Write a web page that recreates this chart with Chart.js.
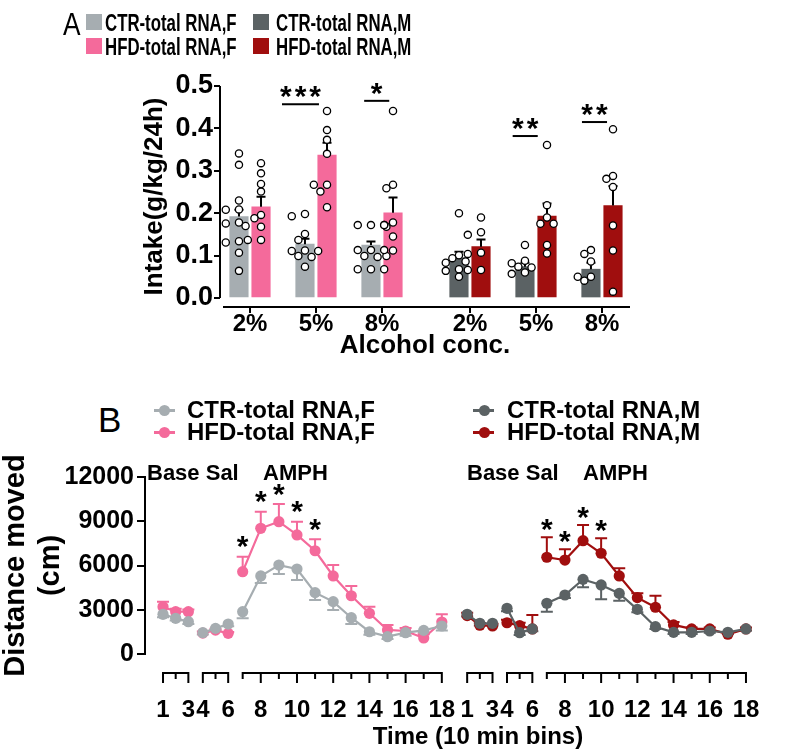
<!DOCTYPE html>
<html>
<head>
<meta charset="utf-8">
<script src="https://cdn.jsdelivr.net/npm/chart.js@4.4.1/dist/chart.umd.min.js"></script>
<style>
  body { margin: 0; background: #fff; }
  #wrap { position: relative; width: 793px; height: 754px; overflow: hidden; font-family: "Liberation Sans", Arial, sans-serif; }
  canvas { position: absolute; left: 0; }
  #chartA { top: 0; }
  #chartB { top: 440px; }
  .t { position: absolute; white-space: nowrap; line-height: 1; color: #000; }
  .lg { font-size: 24px; font-weight: bold; }
  .lgA { font-size: 24px; font-weight: bold; transform: scaleX(0.7); transform-origin: left top; }
  .sq { position: absolute; width: 16px; height: 16px; }
  .ln { position: absolute; width: 21px; height: 2.5px; }
  .dot { position: absolute; width: 11px; height: 11px; border-radius: 50%; }
</style>
</head>
<body>
<div id="wrap">
  <canvas id="chartA" width="793" height="375"></canvas>
  <canvas id="chartB" width="793" height="314"></canvas>

  <div class="t" style="left:63px;top:8px;font-size:32px;transform:scaleX(0.82);transform-origin:left top;">A</div>
  <div class="sq" style="left:86px;top:14px;background:#A6ADB1;"></div>
  <div class="t lgA" style="left:105px;top:10.8px;">CTR-total RNA,F</div>
  <div class="sq" style="left:86px;top:38px;background:#F46A9B;"></div>
  <div class="t lgA" style="left:105px;top:34.8px;">HFD-total RNA,F</div>
  <div class="sq" style="left:253px;top:14px;background:#5B6264;"></div>
  <div class="t lgA" style="left:276px;top:10.8px;">CTR-total RNA,M</div>
  <div class="sq" style="left:253px;top:38px;background:#A00E0E;"></div>
  <div class="t lgA" style="left:276px;top:34.8px;">HFD-total RNA,M</div>

  <div class="t" style="left:98px;top:402.4px;font-size:35px;">B</div>
  <div class="ln" style="left:154px;top:409px;background:#A6ADB1;"></div>
  <div class="dot" style="left:159px;top:404.5px;background:#A6ADB1;"></div>
  <div class="t lg" style="left:187px;top:398.3px;">CTR-total RNA,F</div>
  <div class="ln" style="left:154px;top:431px;background:#F46A9B;"></div>
  <div class="dot" style="left:159px;top:426.5px;background:#F46A9B;"></div>
  <div class="t lg" style="left:187px;top:420.3px;">HFD-total RNA,F</div>
  <div class="ln" style="left:473px;top:409px;background:#5B6264;"></div>
  <div class="dot" style="left:478.5px;top:404.5px;background:#5B6264;"></div>
  <div class="t lg" style="left:507px;top:398.3px;">CTR-total RNA,M</div>
  <div class="ln" style="left:473px;top:431px;background:#A00E0E;"></div>
  <div class="dot" style="left:478.5px;top:426.5px;background:#A00E0E;"></div>
  <div class="t lg" style="left:507px;top:420.3px;">HFD-total RNA,M</div>

  <div class="t" style="left:147px;top:462.3px;font-size:22px;font-weight:bold;">Base Sal</div>
  <div class="t" style="left:263px;top:462.3px;font-size:22px;font-weight:bold;">AMPH</div>
  <div class="t" style="left:467px;top:462.3px;font-size:22px;font-weight:bold;">Base Sal</div>
  <div class="t" style="left:583px;top:462.3px;font-size:22px;font-weight:bold;">AMPH</div>
  <div class="t lg" style="left:478px;top:724.3px;transform:translateX(-50%);">Time (10 min bins)</div>
</div>

<script>
// ---------- panel A: alcohol intake ----------
const concLabels = ["2%", "5%", "8%", "2%", "5%", "8%"];
const intakeTicks = [0, 0.1, 0.2, 0.3, 0.4, 0.5];

const ctrFMean = [0.192, 0.127, 0.125];
const ctrFSem = [0.016, 0.013, 0.008];
const hfdFMean = [0.215, 0.337, 0.201];
const hfdFSem = [0.024, 0.029, 0.036];
const ctrMMean = [0.095, 0.074, 0.068];
const ctrMSem = [0.014, 0.009, 0.015];
const hfdMMean = [0.121, 0.193, 0.218];
const hfdMSem = [0.017, 0.030, 0.046];

const ctrFPts = [
  [0.341, 0.314, 0.230, 0.208, 0.209, 0.178, 0.170, 0.176, 0.131, 0.134, 0.107, 0.064],
  [0.198, 0.193, 0.151, 0.137, 0.111, 0.111, 0.112, 0.099, 0.097, 0.074],
  [0.172, 0.172, 0.172, 0.172, 0.113, 0.113, 0.113, 0.099, 0.097, 0.068, 0.068, 0.068],
];
const hfdFPts = [
  [0.318, 0.294, 0.269, 0.251, 0.196, 0.188, 0.168, 0.137, 0.137],
  [0.441, 0.396, 0.373, 0.340, 0.267, 0.267, 0.251, 0.214],
  [0.441, 0.267, 0.259, 0.178, 0.168, 0.145, 0.112, 0.099],
];
const ctrMPts = [
  [0.200, 0.101, 0.094, 0.086, 0.083, 0.068, 0.064, 0.050],
  [0.125, 0.088, 0.082, 0.072, 0.074, 0.057, 0.060],
  [0.113, 0.104, 0.086, 0.050, 0.050, 0.041],
];
const hfdMPts = [
  [0.190, 0.155, 0.149, 0.107, 0.104, 0.066, 0.066],
  [0.361, 0.219, 0.190, 0.175, 0.175, 0.125, 0.105],
  [0.398, 0.288, 0.281, 0.262, 0.171, 0.112, 0.015],
];

// significance bars (x in group units, y in intake units)
const sigA = [
  { from: 0.485, to: 1.045, y: 0.457, stars: 3 },
  { from: 1.73, to: 2.11, y: 0.465, stars: 1 },
  { from: 3.98, to: 4.36, y: 0.382, stars: 2 },
  { from: 5.03, to: 5.41, y: 0.415, stars: 2 },
];

// ---------- panel B: locomotion ----------
const bins = [1, 2, 3, 4, 5, 6, 7, 8, 9, 10, 11, 12, 13, 14, 15, 16, 17, 18];
const binLabels = [1, 3, 4, 6, 8, 10, 12, 14, 16, 18];
const binSegments = [[1, 3], [4, 6], [7, 18]];
const distTicks = [0, 3000, 6000, 9000, 12000];

const ctrFDist = [2690, 2420, 2190, 1445, 1740, 2030, 2870, 5290, 6030, 5760, 4160, 3550, 2460, 1510, 1175, 1445, 1600, 1900];
const ctrFDistSem = [200, 150, 150, 120, 120, 150, 450, 480, 610, 740, 500, 570, 430, 200, 150, 200, 150, 300];
const hfdFDist = [3200, 2870, 2870, 1420, 1620, 1400, 5580, 8520, 8970, 8070, 7000, 5290, 3950, 2760, 1630, 1560, 1085, 2170];
const hfdFDistSem = [350, 200, 150, 100, 100, 100, 1020, 1130, 1200, 900, 780, 740, 660, 440, 340, 200, 250, 530];
const ctrMDist = [2690, 2080, 2080, 3100, 1445, 1700, 3440, 4000, 5060, 4680, 4110, 3030, 1850, 1470, 1470, 1560, 1470, 1700];
const ctrMDistSem = [150, 150, 150, 200, 150, 150, 570, 200, 540, 970, 500, 200, 150, 120, 120, 120, 120, 120];
const hfdMDist = [2600, 1950, 1900, 2120, 1920, 1700, 6560, 6370, 7680, 6830, 5290, 3820, 3170, 1970, 1700, 1700, 1340, 1700];
const hfdMDistSem = [200, 150, 150, 200, 200, 940, 1350, 730, 1070, 1010, 520, 300, 780, 200, 100, 100, 100, 100];

const starBinsF = [7, 8, 9, 10, 11];
const starBinsM = [7, 8, 9, 10];

const COLORS = { ctrF: "#A6ADB1", hfdF: "#F46A9B", ctrM: "#5B6264", hfdM: "#A00E0E" };
const FONT = "'Liberation Sans', Arial, sans-serif";

// ---------- helpers ----------
const groupX = concLabels.map((_, i) => (i < 3 ? i : i + 1 / 3));
const BAR_SHIFT = 0.167;

function barData(means, groups, shift) {
  return means.map((m, i) => ({ x: groupX[groups[i]] + shift, y: m }));
}

// simple beeswarm so the dots do not sit on top of each other
function swarm(groupsPts, groups, shift) {
  const PX_X = 66, PX_Y = 424, STEP = 0.1;
  const out = [];
  groupsPts.forEach((vals, gi) => {
    const cx = groupX[groups[gi]] + shift;
    const placed = [];
    [...vals].sort((a, b) => b - a).forEach((v) => {
      for (const k of [0, -1, 1, -2, 2]) {
        const dx = k * STEP;
        const free = placed.every((p) => Math.hypot((p.dx - dx) * PX_X, (p.v - v) * PX_Y) >= 7.2);
        if (free || k === 2) {
          placed.push({ dx, v });
          out.push({ x: cx + dx, y: v });
          break;
        }
      }
    });
  });
  return out;
}

function binPos(b, half) {
  let p;
  if (b <= 3) p = (b - 1) * 0.7;
  else if (b <= 6) p = 2.2 + (b - 4) * 0.7;
  else p = 4.4 + (b - 7);
  return p + half * 16.8;
}

function lineData(values, half) {
  const out = [];
  bins.forEach((b, i) => {
    if (b === 4 || b === 7) out.push({ x: (binPos(b - 1, half) + binPos(b, half)) / 2, y: null });
    out.push({ x: binPos(b, half), y: values[i] });
  });
  return out;
}

function drawStar(ctx, cx, cy, size) {
  ctx.font = "bold " + size + "px " + FONT;
  ctx.textAlign = "center";
  ctx.textBaseline = "alphabetic";
  ctx.fillText("*", cx, cy + 0.56 * size);
}

// ---------- panel A ----------
const panelAPlugin = {
  id: "panelA",
  afterDatasetDraw(chart, args) {
    const ds = chart.data.datasets[args.index];
    if (!ds.sem) return;
    const { ctx } = chart;
    const { x, y } = chart.scales;
    ctx.save();
    ctx.strokeStyle = "#000";
    ctx.lineWidth = 2;
    ds.data.forEach((p, i) => {
      const px = x.getPixelForValue(p.x);
      const py = y.getPixelForValue(p.y);
      const top = y.getPixelForValue(p.y + ds.sem[i]);
      ctx.beginPath();
      ctx.moveTo(px, py);
      ctx.lineTo(px, top);
      ctx.moveTo(px - 4.5, top);
      ctx.lineTo(px + 4.5, top);
      ctx.stroke();
    });
    ctx.restore();
  },
  afterDraw(chart) {
    const { ctx, chartArea } = chart;
    const { x, y } = chart.scales;
    ctx.save();
    ctx.strokeStyle = "#000";
    ctx.fillStyle = "#000";
    ctx.lineWidth = 2;
    ctx.beginPath();
    ctx.moveTo(chartArea.left, y.getPixelForValue(0.5));
    ctx.lineTo(chartArea.left, y.getPixelForValue(0));
    ctx.moveTo(chartArea.left + 3, chartArea.bottom);
    ctx.lineTo(chartArea.right, chartArea.bottom);
    ctx.stroke();
    sigA.forEach((s) => {
      const x1 = x.getPixelForValue(s.from);
      const x2 = x.getPixelForValue(s.to);
      const yy = y.getPixelForValue(s.y);
      ctx.beginPath();
      ctx.moveTo(x1, yy);
      ctx.lineTo(x2, yy);
      ctx.stroke();
      const mid = (x1 + x2) / 2;
      for (let k = 0; k < s.stars; k++) {
        drawStar(ctx, mid + (k - (s.stars - 1) / 2) * 14.7, yy - 15, 30);
      }
    });
    ctx.restore();
  },
};

const female = [0, 1, 2];
const male = [3, 4, 5];
const dotStyle = { type: "scatter", pointBackgroundColor: "#fff", pointBorderColor: "#000", pointBorderWidth: 1.3, pointRadius: 3.6, order: 1 };

new Chart(document.getElementById("chartA"), {
  type: "bar",
  data: {
    datasets: [
      { label: "CTR-total RNA,F", data: barData(ctrFMean, female, -BAR_SHIFT), sem: ctrFSem, backgroundColor: COLORS.ctrF, grouped: false, barThickness: 18.5, order: 2 },
      { label: "HFD-total RNA,F", data: barData(hfdFMean, female, BAR_SHIFT), sem: hfdFSem, backgroundColor: COLORS.hfdF, grouped: false, barThickness: 18.5, order: 2 },
      { label: "CTR-total RNA,M", data: barData(ctrMMean, male, -BAR_SHIFT), sem: ctrMSem, backgroundColor: COLORS.ctrM, grouped: false, barThickness: 18.5, order: 2 },
      { label: "HFD-total RNA,M", data: barData(hfdMMean, male, BAR_SHIFT), sem: hfdMSem, backgroundColor: COLORS.hfdM, grouped: false, barThickness: 18.5, order: 2 },
      { ...dotStyle, data: swarm(ctrFPts, female, -BAR_SHIFT) },
      { ...dotStyle, data: swarm(hfdFPts, female, BAR_SHIFT) },
      { ...dotStyle, data: swarm(ctrMPts, male, -BAR_SHIFT) },
      { ...dotStyle, data: swarm(hfdMPts, male, BAR_SHIFT) },
    ],
  },
  options: {
    responsive: false,
    animation: false,
    devicePixelRatio: 1,
    events: [],
    layout: { padding: { top: 86, right: 163, bottom: 0, left: 0 } },
    plugins: { legend: { display: false }, tooltip: { enabled: false } },
    scales: {
      x: {
        type: "linear",
        min: -0.4545,
        max: 5.758,
        offset: false,
        border: { display: false },
        grid: { display: true, offset: false, drawOnChartArea: false, drawTicks: true, tickLength: 6, color: "#000", lineWidth: 2 },
        afterBuildTicks: (s) => { s.ticks = groupX.map((v) => ({ value: v })); },
        afterFit: (s) => { s.height = 68; },
        ticks: { callback: (v, i) => concLabels[i], color: "#000", font: { family: FONT, size: 24, weight: "bold" }, padding: -3, autoSkip: false, maxRotation: 0 },
        title: { display: true, text: "Alcohol conc.", color: "#000", font: { family: FONT, size: 26, weight: "bold" }, padding: { top: 0, bottom: 14 } },
      },
      y: {
        min: -0.0212,
        max: 0.5,
        border: { display: false },
        grid: { display: true, drawOnChartArea: false, drawTicks: true, tickLength: 6, color: "#000", lineWidth: 2 },
        afterBuildTicks: (s) => { s.ticks = intakeTicks.map((v) => ({ value: v })); },
        afterFit: (s) => { s.width = 220; },
        ticks: { callback: (v) => v.toFixed(1), color: "#000", font: { family: FONT, size: 27, weight: "bold" }, padding: 1 },
        title: { display: true, text: "Intake(g/kg/24h)", color: "#000", font: { family: FONT, size: 26, weight: "bold" }, padding: { top: 139.4, bottom: 0 } },
      },
    },
  },
  plugins: [panelAPlugin],
});

// ---------- panel B ----------
const panelBPlugin = {
  id: "panelB",
  beforeDatasetsDraw(chart) {
    const { ctx } = chart;
    const { x, y } = chart.scales;
    ctx.save();
    ctx.lineWidth = 2;
    chart.data.datasets.forEach((ds) => {
      ctx.strokeStyle = ds.borderColor;
      ds.values.forEach((v, i) => {
        const px = x.getPixelForValue(binPos(bins[i], ds.half));
        const py = y.getPixelForValue(v);
        const end = y.getPixelForValue(v + ds.semDir * ds.sem[i]);
        ctx.beginPath();
        ctx.moveTo(px, py);
        ctx.lineTo(px, end);
        ctx.moveTo(px - 6, end);
        ctx.lineTo(px + 6, end);
        ctx.stroke();
      });
    });
    ctx.restore();
  },
  afterDraw(chart) {
    const { ctx, chartArea } = chart;
    const { x, y } = chart.scales;
    ctx.save();
    ctx.strokeStyle = "#000";
    ctx.fillStyle = "#000";
    ctx.lineWidth = 2;
    const yb = chartArea.bottom + 19;
    [0, 1].forEach((half) => {
      binSegments.forEach(([a, b]) => {
        ctx.beginPath();
        ctx.moveTo(x.getPixelForValue(binPos(a, half)), yb);
        ctx.lineTo(x.getPixelForValue(binPos(b, half)), yb);
        for (let k = a; k <= b; k++) {
          const px = x.getPixelForValue(binPos(k, half));
          const len = binLabels.includes(k) ? 10 : 6;
          ctx.moveTo(px, yb - 1);
          ctx.lineTo(px, yb + len);
        }
        ctx.stroke();
      });
    });
    const starSets = [
      { ds: chart.data.datasets[1], list: starBinsF, gap: 17 },
      { ds: chart.data.datasets[3], list: starBinsM, gap: 15 },
    ];
    starSets.forEach(({ ds, list, gap }) => {
      list.forEach((b) => {
        const i = bins.indexOf(b);
        const px = x.getPixelForValue(binPos(b, ds.half));
        const top = y.getPixelForValue(ds.values[i] + ds.sem[i]);
        drawStar(ctx, px, top - gap, 30);
      });
    });
    ctx.restore();
  },
};

function lineSet(label, values, sem, semDir, half, color, order) {
  return {
    label, values, sem, semDir, half, order,
    data: lineData(values, half),
    borderColor: color,
    backgroundColor: color,
    pointBackgroundColor: color,
    pointBorderColor: color,
    pointBorderWidth: 0,
    pointRadius: 5.6,
    borderWidth: 2.2,
    spanGaps: false,
  };
}

new Chart(document.getElementById("chartB"), {
  type: "line",
  data: {
    datasets: [
      lineSet("CTR-total RNA,F", ctrFDist, ctrFDistSem, -1, 0, COLORS.ctrF, 0),
      lineSet("HFD-total RNA,F", hfdFDist, hfdFDistSem, 1, 0, COLORS.hfdF, 1),
      lineSet("CTR-total RNA,M", ctrMDist, ctrMDistSem, -1, 1, COLORS.ctrM, 0),
      lineSet("HFD-total RNA,M", hfdMDist, hfdMDistSem, 1, 1, COLORS.hfdM, 1),
    ],
  },
  options: {
    responsive: false,
    animation: false,
    devicePixelRatio: 1,
    events: [],
    layout: { padding: { top: 37, right: 7, bottom: 0, left: 0 } },
    plugins: { legend: { display: false }, tooltip: { enabled: false } },
    scales: {
      x: {
        type: "linear",
        min: -0.995,
        max: 32.57,
        border: { display: false },
        grid: { display: false },
        afterBuildTicks: (s) => { s.ticks = [0, 1].flatMap((h) => binLabels.map((b) => ({ value: binPos(b, h) }))); },
        afterFit: (s) => { s.height = 100; },
        ticks: { callback: (v, i) => String(binLabels[i % binLabels.length]), color: "#000", font: { family: FONT, size: 24, weight: "bold" }, padding: 33.6, autoSkip: false, maxRotation: 0 },
      },
      y: {
        min: 0,
        max: 12000,
        border: { display: true, color: "#000", width: 2 },
        grid: { display: true, drawOnChartArea: false, drawTicks: true, tickLength: 8, color: "#000", lineWidth: 2 },
        afterBuildTicks: (s) => { s.ticks = distTicks.map((v) => ({ value: v })); },
        afterFit: (s) => { s.width = 145; },
        ticks: { callback: (v) => String(v), color: "#000", font: { family: FONT, size: 25, weight: "bold" }, padding: 3 },
        title: { display: true, text: ["Distance moved", "(cm)"], color: "#000", font: { family: FONT, size: 29, weight: "bold", lineHeight: 1.2 }, padding: { top: -1, bottom: 0 } },
      },
    },
  },
  plugins: [panelBPlugin],
});
</script>
</body>
</html>
